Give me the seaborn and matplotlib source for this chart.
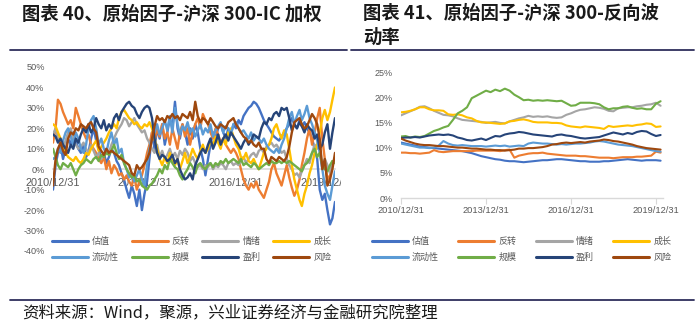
import numpy as np
import pandas as pd
import matplotlib
matplotlib.use('Agg')
import matplotlib.pyplot as plt
import seaborn as sns
from matplotlib.lines import Line2D
from matplotlib.ticker import MultipleLocator, PercentFormatter
from matplotlib.transforms import Bbox, TransformedBbox

# ---------------- data ----------------
factors = ['估值', '反转', '情绪', '成长', '流动性', '规模', '盈利', '风险']
colors = ['#4472C4', '#ED7D31', '#A5A5A5', '#FFC000', '#5B9BD5', '#70AD47', '#264478', '#9E480E']

dates_ic = pd.date_range('2010-12-31', periods=112, freq='ME')
dates_vol = pd.date_range('2010-12-31', periods=56, freq='2ME')
tick_dates = pd.to_datetime(['2010-12-31', '2013-12-31', '2016-12-31', '2019-12-31'])
tick_labels = ['2010/12/31', '2013/12/31', '2016/12/31', '2019/12/31']

# left chart: IC-weighted raw factors (%), monthly
ic_valuation = [-10, 2, 8, 12, 5, 10, 15, 12, 18, 14, 10, 8,
                12, 6, 8, 15, 20, 14, 10, 5, 8, 3, 6, 10,
                8, 4, 2, -2, -5, -10, -14, -8, -12, -18, -10, -20,
                -12, -6, 5, 18, 10, 20, 15, 22, 12, 18, 25, 20,
                33, 20, 15, 22, 18, 12, 20, 15, 22, 18, 10, 5,
                -3, 5, 12, 18, 15, 20, 22, 18, 15, 20, 17, 22,
                20, 24, 22, 26, 28, 30, 31, 33, 32, 30, 27, 24,
                22, 20, 18, 16, 15, 14, 16, 18, 20, 22, 25, 22,
                20, 24, 21, 23, 20, 18, 15, 10, 5, -10, -15, -12,
                -20, -27, -24, -16]
ic_reversal = [13, 20, 34, 32, 28, 25, 22, 24, 20, 30, 26, 22,
               18, 15, 17, 12, 10, 8, 5, 3, 6, 0, 4, -2,
               2, 0, -3, -2, -5, -3, -6, -8, -4, -10, -6, -3,
               2, 8, 12, 18, 14, 20, 16, 22, 15, 18, 12, 20,
               15, 10, 18, 22, 16, 20, 12, 18, 22, 25, 20, 27,
               24, 22, 18, 15, 20, 17, 13, 15, 12, 10, 8, 10,
               8, 5, 0, -5, -8, -10, -7, -9, -6, -10, -12, -14,
               -10, -6, 0, 3, -2, -5, -8, -3, 2, -4, -9, -13,
               -10, -5, 2, 8, 15, 20, 12, 18, 25, 30, 15, 5,
               -5, -3, 2, 5]
ic_sentiment = [17, 20, 15, 12, 10, 14, 18, 20, 15, 12, 10, 11,
                13, 10, 8, 12, 9, 6, 8, 5, 7, 10, 8, 12,
                15, 18, 20, 22, 25, 24, 21, 23, 25, 22, 20, 18,
                19, 15, 13, 10, 8, 12, 6, 9, 5, 7, 10, 6,
                8, 5, 9, 7, 10, 8, 4, 6, 3, 1, 2, 0,
                2, 1, 3, 0, 2, 1, 3, 2, 0, 3, 4, 2,
                3, 2, 4, 6, 3, 5, 7, 8, 6, 9, 10, 8,
                11, 12, 13, 11, 12, 10, 8, 9, 5, 2, 0, -3,
                -2, -4, -1, 2, 5, 3, 8, 12, 10, 13, 0, 5,
                2, -2, 4, 3]
ic_growth = [22, 21, 18, 15, 12, 8, 6, 5, 4, 6, 4, 3,
             5, 8, 7, 10, 12, 14, 9, 11, 13, 15, 18, 20,
             22, 20, 25, 28, 29, 27, 25, 24, 22, 23, 21, 20,
             22, 21, 23, 20, 15, 10, 5, 2, 6, 3, 8, 4,
             2, 5, 0, 4, 8, 3, 6, 10, 7, 5, 9, 12,
             8, 10, 14, 12, 16, 13, 10, 15, 12, 18, 20, 16,
             12, 10, 6, 5, 8, 4, 3, 5, 2, 0, 4, 8,
             10, 12, 15, 20, 22, 18, 15, 19, 17, 10, 2, -5,
             -10, -15, -18, -12, -8, -2, 2, 8, 12, 18, 25, 29,
             24, 28, 34, 40]
ic_liquidity = [5, 6, 10, 8, 14, 18, 20, 16, 12, 18, 15, 10,
                8, 12, 20, 24, 26, 20, 12, 15, 10, 8, 14, 18,
                12, 15, 8, 10, 3, 0, -4, -2, -6, -3, 0, -5,
                -8, 2, 10, 15, 18, 22, 17, 20, 24, 19, 26, 18,
                30, 22, 17, 21, 19, 23, 18, 20, 16, 19, 22, 17,
                20, 18, 22, 16, 19, 21, 23, 18, 21, 20, 17, 22,
                23, 20, 18, 19, 17, 15, 18, 14, 16, 15, 13, 15,
                12, 10, 9, 8, 10, 8, 12, 15, 20, 25, 28, 22,
                26, 29, 24, 27, 31, 25, 22, 18, 14, 8, 0, -8,
                -12, -15, -8, -1]
ic_size = [10, 6, 2, 0, 3, 2, 1, 3, 0, -3, 0, 2,
           3, 5, 4, 3, 5, 6, 4, 7, 6, 8, 7, 9,
           12, 8, 5, 7, 3, 0, -2, -4, -3, -6, -5, -8,
           -9, -10, -8, -7, -5, -3, 0, -2, 2, 0, 5, 3,
           1, 0, -3, -5, -2, 0, 3, 1, -2, 2, 3, 1,
           0, 2, 3, 1, 3, 2, 4, 3, 5, 3, 4, 5,
           4, 3, 5, 2, 3, 2, 1, 3, 2, 0, 1, 2,
           3, 2, 4, 3, 3, 4, 3, 4, 3, 4, 3, 2,
           1, 0, -1, 2, 3, 5, 8, 10, 6, 8, 2, 0,
           -1, 2, 4, 3]
ic_profit = [17, 16, 13, 15, 12, 10, 8, 12, 10, 15, 13, 17,
             20, 18, 22, 18, 20, 25, 22, 20, 24, 19, 22, 20,
             25, 27, 24, 28, 30, 32, 33, 31, 30, 27, 25, 28,
             30, 31, 30, 25, 15, 8, 5, 7, 6, 4, 5, 7,
             3, 5, 0, -3, -5, -4, -2, -5, 2, 5, 8, 10,
             8, 12, 15, 10, 13, 17, 12, 15, 17, 14, 18, 16,
             14, 12, 10, 13, 15, 12, 14, 17, 16, 15, 20, 23,
             22, 25, 24, 27, 28, 26, 30, 29, 30, 25, 19, 22,
             20, 23, 21, 18, 22, 20, 19, 15, 17, 10, 12, 18,
             22, 10, 18, 25]
ic_risk = [-8, 5, 10, 13, 9, 7, 15, 18, 17, 20, 19, 22,
           21, 20, 22, 23, 20, 18, 11, 9, 7, 10, 8, 9,
           8, 7, 6, 5, 4, 3, 2, -2, -3, 2, 0, 1,
           3, 5, 8, 15, 21, 26, 24, 25, 23, 26, 25, 27,
           25, 26, 24, 27, 26, 25, 28, 24, 33, 26, 23, 25,
           24, 22, 25, 23, 21, 20, 22, 21, 20, 23, 24, 25,
           22, 20, 18, 16, 15, 13, 14, 12, 11, 13, 10, 10,
           5, 3, 6, 5, 4, 6, 5, 4, 6, 11, 18, 23,
           24, 25, 22, 20, 21, 24, 27, 25, 22, 15, 0, 5,
           -8, -5, 0, 8]

# right chart: inverse-volatility raw factors (%), every two months
vol_valuation = [11.0, 10.8, 10.6, 10.4, 10.2, 10.1, 10.0, 9.9, 9.8, 9.7, 9.6, 9.5,
                 9.4, 9.3, 9.1, 8.9, 8.6, 8.3, 8.1, 7.9, 7.7, 7.6, 7.4, 7.3,
                 7.3, 7.2, 7.1, 7.2, 7.3, 7.4, 7.5, 7.5, 7.6, 7.7, 7.7, 7.6,
                 7.5, 7.4, 7.3, 7.3, 7.2, 7.2, 7.2, 7.3, 7.3, 7.4, 7.5, 7.6,
                 7.7, 7.6, 7.5, 7.4, 7.5, 7.5, 7.5, 7.4]
vol_reversal = [9.0, 9.0, 8.9, 8.9, 8.8, 8.9, 9.0, 9.5, 9.2, 9.1, 9.2, 9.3,
                9.3, 9.3, 9.3, 9.3, 9.4, 9.4, 9.4, 9.4, 9.4, 9.3, 9.5, 9.6,
                8.0, 8.4, 8.6, 8.8, 8.9, 8.9, 9.0, 8.8, 8.7, 8.6, 8.5, 8.4,
                8.4, 8.4, 8.3, 8.3, 8.2, 8.1, 8.0, 8.0, 8.0, 7.9, 8.0, 8.1,
                8.1, 8.1, 8.2, 8.2, 8.3, 8.4, 9.2, 9.0]
vol_sentiment = [16.4, 16.8, 17.2, 17.6, 18.1, 18.2, 17.8, 17.3, 16.9, 16.5, 16.4, 16.2,
                 15.8, 15.5, 15.4, 15.3, 15.2, 15.1, 14.9, 15.0, 15.1, 14.9, 14.8, 15.2,
                 15.5, 15.8, 16.0, 16.3, 16.1, 16.2, 16.1, 16.2, 16.0, 15.9, 16.0, 16.5,
                 16.8, 17.2, 17.5, 17.6, 17.8, 18.0, 17.9, 17.7, 17.3, 17.2, 17.8, 17.9,
                 18.0, 18.0, 18.2, 18.3, 18.5, 18.6, 18.9, 18.3]
vol_growth = [17.0, 17.1, 17.3, 17.6, 18.0, 18.0, 17.6, 17.4, 17.4, 17.3, 16.6, 16.5,
              16.6, 16.4, 16.0, 15.8, 15.3, 15.0, 15.0, 14.9, 14.8, 14.7, 14.8, 15.2,
              15.3, 15.5, 15.6, 15.4, 15.1, 15.0, 15.0, 15.0, 14.9, 14.9, 14.8, 14.4,
              14.2, 14.1, 14.0, 14.2, 14.1, 14.0, 13.9, 13.7, 14.3, 14.1, 14.2, 14.3,
              14.4, 14.3, 14.5, 14.6, 14.8, 14.7, 14.1, 14.2]
vol_liquidity = [10.8, 10.6, 10.4, 10.2, 10.0, 10.0, 9.9, 10.0, 10.4, 11.3, 10.8, 10.5,
                 10.4, 10.5, 10.4, 10.3, 10.3, 10.3, 10.2, 10.3, 10.4, 10.3, 10.4, 10.2,
                 10.3, 10.4, 10.3, 10.8, 11.0, 10.9, 10.8, 10.8, 10.7, 10.6, 10.7, 10.6,
                 10.7, 10.8, 10.8, 10.9, 11.0, 11.2, 11.3, 11.2, 11.0, 10.8, 10.6, 10.5,
                 10.4, 10.3, 10.1, 9.9, 9.7, 9.5, 9.3, 9.2]
vol_size = [12.2, 12.3, 12.0, 12.2, 12.1, 12.3, 12.8, 13.3, 13.6, 14.0, 14.3, 15.5,
            16.8, 17.3, 18.0, 19.8, 20.3, 20.8, 21.3, 21.0, 21.5, 21.2, 21.7, 21.3,
            20.5, 20.0, 19.4, 19.5, 19.3, 19.4, 19.3, 19.4, 19.3, 19.2, 19.3, 18.8,
            18.3, 18.4, 18.9, 18.9, 18.9, 18.8, 18.6, 18.0, 17.6, 17.8, 17.8, 18.1,
            18.2, 17.9, 17.7, 17.8, 17.6, 17.6, 18.7, 19.2]
vol_profit = [11.9, 12.0, 12.0, 12.1, 12.0, 12.2, 12.4, 12.5, 12.6, 12.5, 12.6, 12.4,
              12.0, 11.8, 11.5, 11.4, 11.6, 11.8, 11.5, 11.9, 12.3, 12.2, 12.6, 12.8,
              12.9, 13.1, 13.0, 12.8, 12.6, 12.5, 12.4, 12.3, 12.2, 12.5, 12.6, 12.4,
              12.3, 12.1, 11.9, 11.8, 11.9, 12.0, 12.1, 12.4, 12.7, 13.0, 12.8, 12.6,
              12.9, 12.7, 13.1, 13.3, 13.2, 12.7, 12.3, 12.5]
vol_risk = [11.8, 11.4, 11.1, 10.8, 10.6, 10.5, 10.5, 10.4, 10.3, 10.3, 10.2, 10.1,
            10.0, 10.0, 9.9, 9.8, 9.8, 9.7, 9.6, 9.6, 9.5, 9.5, 9.4, 9.5,
            9.6, 9.8, 9.8, 9.9, 9.9, 10.0, 10.1, 10.3, 10.6, 10.7, 10.9, 11.0,
            10.9, 11.0, 11.1, 11.0, 11.2, 11.3, 11.4, 11.6, 11.5, 11.3, 11.2, 11.0,
            10.8, 10.6, 10.3, 10.1, 9.9, 9.8, 9.7, 9.6]

ic_series = [ic_valuation, ic_reversal, ic_sentiment, ic_growth,
             ic_liquidity, ic_size, ic_profit, ic_risk]
vol_series = [vol_valuation, vol_reversal, vol_sentiment, vol_growth,
              vol_liquidity, vol_size, vol_profit, vol_risk]

df_ic = pd.concat([pd.DataFrame({'date': dates_ic, 'value': v, 'factor': f})
                   for f, v in zip(factors, ic_series)], ignore_index=True)
df_vol = pd.concat([pd.DataFrame({'date': dates_vol, 'value': v, 'factor': f})
                    for f, v in zip(factors, vol_series)], ignore_index=True)

# ---------------- style ----------------
sns.set_theme(style='white')
plt.rcParams['font.family'] = ['Noto Sans CJK SC', 'DejaVu Sans']
plt.rcParams['axes.unicode_minus'] = False

CJK = ['Noto Sans CJK SC', 'DejaVu Sans']
NUM = ['Liberation Sans', 'DejaVu Sans']
TICK_COLOR = '#595959'
GRID_GRAY = '#D9D9D9'
RULE = '#2E2E5C'

fig = plt.figure(figsize=(7.0, 3.31), dpi=100)
W, H = 700, 331

def fx(px):
    return px / W

def fy(py):
    return 1 - py / H

# ---------------- left chart ----------------
ax1 = fig.add_axes([fx(53), fy(251), fx(282), 184 / H])
sns.lineplot(data=df_ic, x='date', y='value', hue='factor', hue_order=factors,
             palette=colors, linewidth=1.7, ax=ax1, legend=False)
ax1.set_xlim(dates_ic[0], dates_ic[-1])
ax1.set_ylim(-40, 50)
ax1.yaxis.set_major_locator(MultipleLocator(10))
ax1.yaxis.set_major_formatter(PercentFormatter(100, decimals=0))
ax1.set_xticks(tick_dates)
ax1.set_xticklabels(tick_labels)
ax1.set_xlabel('')
ax1.set_ylabel('')
for s in ['top', 'right', 'left']:
    ax1.spines[s].set_visible(False)
ax1.spines['bottom'].set_position(('data', 0))
ax1.spines['bottom'].set_color(GRID_GRAY)
ax1.spines['bottom'].set_linewidth(1.2)
ax1.spines['bottom'].set_zorder(0.5)
ax1.tick_params(axis='y', length=0, pad=6, labelsize=6.6, labelcolor=TICK_COLOR)
ax1.tick_params(axis='x', length=0, pad=6, labelsize=7.8, labelcolor=TICK_COLOR)
for lab in ax1.get_yticklabels() + ax1.get_xticklabels():
    lab.set_fontfamily(NUM)
clip = TransformedBbox(Bbox([[0, 0], [341 / W, 1]]), fig.transFigure)
for lab in ax1.get_xticklabels():
    lab.set_clip_box(clip)
    lab.set_clip_on(True)

# ---------------- right chart ----------------
ax2 = fig.add_axes([fx(401), fy(198), fx(262), 126 / H])
sns.lineplot(data=df_vol, x='date', y='value', hue='factor', hue_order=factors,
             palette=colors, linewidth=1.5, ax=ax2, legend=False)
ax2.set_xlim(dates_ic[0], dates_ic[-1])
ax2.set_ylim(0, 25)
ax2.yaxis.set_major_locator(MultipleLocator(5))
ax2.yaxis.set_major_formatter(PercentFormatter(100, decimals=0))
ax2.set_xticks(tick_dates)
ax2.set_xticklabels(tick_labels)
ax2.set_xlabel('')
ax2.set_ylabel('')
for s in ['top', 'right', 'left']:
    ax2.spines[s].set_visible(False)
ax2.spines['bottom'].set_color(GRID_GRAY)
ax2.spines['bottom'].set_linewidth(1.0)
ax2.tick_params(axis='y', length=0, pad=6, labelsize=6.5, labelcolor=TICK_COLOR)
ax2.tick_params(axis='x', direction='out', length=4, width=0.8, color=GRID_GRAY,
                pad=2, labelsize=6.7, labelcolor=TICK_COLOR, bottom=True)
for lab in ax2.get_yticklabels() + ax2.get_xticklabels():
    lab.set_fontfamily(NUM)

# ---------------- legends (row-wise order, 4 columns x 2 rows) ----------------
order = [0, 4, 1, 5, 2, 6, 3, 7]
handles = [Line2D([], [], color=colors[i], lw=2.2) for i in order]
labels = [factors[i] for i in order]
leg_kw = dict(ncol=4, frameon=False, handlelength=4.0,
              handletextpad=0.45, labelspacing=0.75,
              borderpad=0.0, loc='center', bbox_transform=fig.transFigure,
              labelcolor=TICK_COLOR, prop={'family': CJK, 'size': 6.5})
fig.legend(handles, labels, bbox_to_anchor=(fx(191.5), fy(249.5)),
           columnspacing=1.4, **leg_kw)
fig.legend(handles, labels, bbox_to_anchor=(fx(521.5), fy(249.5)),
           columnspacing=2.15, **leg_kw)

# ---------------- titles, rules, source ----------------
fig.text(fx(22), fy(14), '图表 40、原始因子-沪深 300-IC 加权', ha='left', va='center',
         fontsize=13.2, fontweight='bold', family=CJK, color='#1a1a1a')
fig.text(fx(363), fy(4), '图表 41、原始因子-沪深 300-反向波\n动率', ha='left', va='top',
         fontsize=13.2, fontweight='bold', family=CJK, color='#1a1a1a', linespacing=1.3)
fig.add_artist(Line2D([fx(10), fx(347)], [fy(50), fy(50)], transform=fig.transFigure,
                      color=RULE, lw=1.3))
fig.add_artist(Line2D([fx(351), fx(694)], [fy(50), fy(50)], transform=fig.transFigure,
                      color=RULE, lw=1.3))
fig.add_artist(Line2D([fx(10), fx(694)], [fy(300), fy(300)], transform=fig.transFigure,
                      color=RULE, lw=1.3))
fig.text(fx(22), fy(313), '资料来源：Wind，聚源，兴业证券经济与金融研究院整理', ha='left',
         va='center', fontsize=11.8, family=CJK, color='#1a1a1a')

fig.savefig('out.png', dpi=100)
